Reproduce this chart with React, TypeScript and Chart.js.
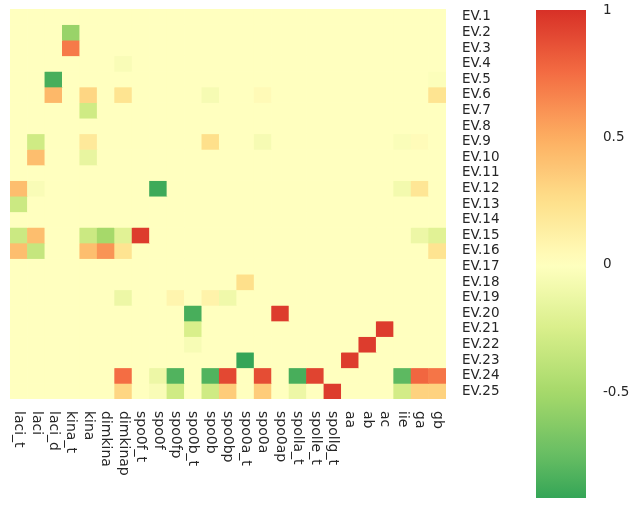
import React, { useEffect, useRef } from "react";
import { Chart, registerables } from "chart.js";

Chart.register(...registerables);

const xLabels = [
  "laci_t", "laci", "laci_d", "kina_t", "kina", "dimkina", "dimkinap",
  "spo0f_t", "spo0f", "spo0fp", "spo0b_t", "spo0b", "spo0bp", "spo0a_t",
  "spo0a", "spo0ap", "spolla_t", "spolle_t", "spollg_t", "aa", "ab", "ac",
  "iie", "ga", "gb",
];

const rowLabels = [
  "EV.1", "EV.2", "EV.3", "EV.4", "EV.5", "EV.6", "EV.7", "EV.8", "EV.9",
  "EV.10", "EV.11", "EV.12", "EV.13", "EV.14", "EV.15", "EV.16", "EV.17",
  "EV.18", "EV.19", "EV.20", "EV.21", "EV.22", "EV.23", "EV.24", "EV.25",
];

// one row per EV, one value per x label
const values: number[][] = [
  [0, 0, 0, 0, 0, 0, 0, 0, 0, 0, 0, 0, 0, 0, 0, 0, 0, 0, 0, 0, 0, 0, 0, 0, 0],
  [0, 0, 0, -0.55, 0, 0, 0, 0, 0, 0, 0, 0, 0, 0, 0, 0, 0, 0, 0, 0, 0, 0, 0, 0, 0],
  [0, 0, 0, 0.7, 0, 0, 0, 0, 0, 0, 0, 0, 0, 0, 0, 0, 0, 0, 0, 0, 0, 0, 0, 0, 0],
  [0, 0, 0, 0, 0, 0, -0.04, 0, 0, 0, 0, 0, 0, 0, 0, 0, 0, 0, 0, 0, 0, 0, 0, 0, 0],
  [0, 0, -0.85, 0, 0, 0, 0, 0, 0, 0, 0, 0, 0, 0, 0, 0, 0, 0, 0, 0, 0, 0, 0, 0, -0.02],
  [0, 0, 0.45, 0, 0.3, 0, 0.22, 0, 0, 0, 0, -0.06, 0, 0, 0.04, 0, 0, 0, 0, 0, 0, 0, 0, 0, 0.22],
  [0, 0, 0, 0, -0.3, 0, 0, 0, 0, 0, 0, 0, 0, 0, 0, 0, 0, 0, 0, 0, 0, 0, 0, 0, 0],
  [0, 0, 0, 0, 0, 0, 0, 0, 0, 0, 0, 0, 0, 0, 0, 0, 0, 0, 0, 0, 0, 0, 0, 0, 0],
  [0, -0.3, 0, 0, 0.18, 0, 0, 0, 0, 0, 0, 0.25, 0, 0, -0.06, 0, 0, 0, 0, 0, 0, 0, -0.03, 0.03, 0],
  [0, 0.42, 0, 0, -0.15, 0, 0, 0, 0, 0, 0, 0, 0, 0, 0, 0, 0, 0, 0, 0, 0, 0, 0, 0, 0],
  [0, 0, 0, 0, 0, 0, 0, 0, 0, 0, 0, 0, 0, 0, 0, 0, 0, 0, 0, 0, 0, 0, 0, 0, 0],
  [0.42, -0.04, 0, 0, 0, 0, 0, 0, -0.88, 0, 0, 0, 0, 0, 0, 0, 0, 0, 0, 0, 0, 0, -0.08, 0.2, 0],
  [-0.32, 0, 0, 0, 0, 0, 0, 0, 0, 0, 0, 0, 0, 0, 0, 0, 0, 0, 0, 0, 0, 0, 0, 0, 0],
  [0, 0, 0, 0, 0, 0, 0, 0, 0, 0, 0, 0, 0, 0, 0, 0, 0, 0, 0, 0, 0, 0, 0, 0, 0],
  [-0.32, 0.42, 0, 0, -0.32, -0.5, -0.2, 0.95, 0, 0, 0, 0, 0, 0, 0, 0, 0, 0, 0, 0, 0, 0, 0, -0.12, -0.2],
  [0.42, -0.35, 0, 0, 0.42, 0.6, 0.22, 0, 0, 0, 0, 0, 0, 0, 0, 0, 0, 0, 0, 0, 0, 0, 0, 0, 0.22],
  [0, 0, 0, 0, 0, 0, 0, 0, 0, 0, 0, 0, 0, 0, 0, 0, 0, 0, 0, 0, 0, 0, 0, 0, 0],
  [0, 0, 0, 0, 0, 0, 0, 0, 0, 0, 0, 0, 0, 0.25, 0, 0, 0, 0, 0, 0, 0, 0, 0, 0, 0],
  [0, 0, 0, 0, 0, 0, -0.12, 0, 0, 0.08, 0, 0.1, -0.1, 0, 0, 0, 0, 0, 0, 0, 0, 0, 0, 0, 0],
  [0, 0, 0, 0, 0, 0, 0, 0, 0, 0, -0.85, 0, 0, 0, 0, 0.95, 0, 0, 0, 0, 0, 0, 0, 0, 0],
  [0, 0, 0, 0, 0, 0, 0, 0, 0, 0, -0.25, 0, 0, 0, 0, 0, 0, 0, 0, 0, 0, 0.95, 0, 0, 0],
  [0, 0, 0, 0, 0, 0, 0, 0, 0, 0, -0.05, 0, 0, 0, 0, 0, 0, 0, 0, 0, 0.95, 0, 0, 0, 0],
  [0, 0, 0, 0, 0, 0, 0, 0, 0, 0, 0, 0, 0, -0.91, 0, 0, 0, 0, 0, 0.95, 0, 0, 0, 0, 0],
  [0, 0, 0, 0, 0, 0, 0.75, 0, -0.12, -0.82, 0, -0.82, 0.9, 0, 0.88, 0, -0.85, 0.92, 0, 0, 0, 0, -0.78, 0.78, 0.72],
  [0, 0, 0, 0, 0, 0, 0.3, 0, -0.04, -0.3, 0, -0.3, 0.35, 0, 0.35, 0, -0.12, 0, 0.95, 0, 0, 0, -0.28, 0.32, 0.32],
];

const cbarTicks = [1, 0.5, 0, -0.5];
const cbarMin = -0.914;
const cbarMax = 1;

// reversed RdYlGn (9 classes): green -> yellow -> red
const palette = [
  [26, 152, 80], [102, 189, 99], [166, 217, 106], [217, 239, 139],
  [255, 255, 191], [254, 224, 139], [253, 174, 97], [244, 109, 67], [215, 48, 39],
];

function colorFor(v: number): string {
  const t = Math.max(0, Math.min(1, (v + 1) / 2));
  const pos = t * (palette.length - 1);
  const i = Math.min(palette.length - 2, Math.floor(pos));
  const f = pos - i;
  const a = palette[i];
  const b = palette[i + 1];
  const c = a.map((av, k) => Math.round(av + (b[k] - av) * f));
  return `rgb(${c[0]},${c[1]},${c[2]})`;
}

const FONT = '"DejaVu Sans", sans-serif';
const TEXT = "#262626";

const xLabelPlugin = {
  id: "rotatedXLabels",
  afterDraw(chart: any) {
    const { ctx, chartArea, scales } = chart;
    const xs = scales.x;
    ctx.save();
    ctx.font = `14px ${FONT}`;
    ctx.fillStyle = TEXT;
    ctx.textAlign = "left";
    ctx.textBaseline = "middle";
    xLabels.forEach((lab, i) => {
      const x = xs.getPixelForValue(i);
      ctx.save();
      ctx.translate(x, chartArea.bottom + 12);
      ctx.rotate(Math.PI / 2);
      ctx.fillText(lab, 0, 0);
      ctx.restore();
    });
    ctx.restore();
  },
};

export default function App() {
  const heatRef = useRef<HTMLCanvasElement>(null);
  const cbarRef = useRef<HTMLCanvasElement>(null);

  useEffect(() => {
    const datasets = rowLabels.map((lab, r) => ({
      label: lab,
      data: xLabels.map(() => [r - 0.5, r + 0.5]),
      backgroundColor: values[r].map(colorFor),
      borderWidth: 0,
      borderSkipped: false,
      barPercentage: 1,
      categoryPercentage: 1,
      grouped: false,
    }));

    const heat = new Chart(heatRef.current!, {
      type: "bar",
      data: { labels: xLabels, datasets: datasets as any },
      plugins: [xLabelPlugin],
      options: {
        responsive: false,
        animation: false,
        layout: { padding: { left: 10, top: 9, right: 0, bottom: 0 } },
        plugins: { legend: { display: false }, tooltip: { enabled: false } },
        scales: {
          x: {
            type: "category",
            offset: true,
            grid: { display: false },
            border: { display: false },
            ticks: { display: false },
            afterFit: (axis: any) => {
              axis.height = 121;
              axis.paddingLeft = 0;
              axis.paddingRight = 0;
            },
          },
          y: {
            type: "linear",
            position: "right",
            reverse: true,
            min: -0.5,
            max: rowLabels.length - 0.5,
            grid: { display: false, drawTicks: false },
            border: { display: false },
            afterBuildTicks: (axis: any) => {
              axis.ticks = rowLabels.map((_, i) => ({ value: i }));
            },
            afterFit: (axis: any) => {
              axis.width = 84;
              axis.paddingTop = 0;
              axis.paddingBottom = 0;
            },
            ticks: {
              autoSkip: false,
              padding: 16,
              color: TEXT,
              font: { family: FONT, size: 13.5 },
              callback: (v: any) => rowLabels[Math.round(Number(v))],
            },
          },
        },
      },
    });

    const cbar = new Chart(cbarRef.current!, {
      type: "bar",
      data: {
        labels: [""],
        datasets: [
          {
            data: [[cbarMin, cbarMax]] as any,
            borderWidth: 0,
            borderSkipped: false,
            barPercentage: 1,
            categoryPercentage: 1,
            backgroundColor: (ctx: any) => {
              const chart = ctx.chart;
              const area = chart.chartArea;
              const ys = chart.scales.y;
              if (!area || !ys) return colorFor(0);
              const top = ys.getPixelForValue(cbarMax);
              const bottom = ys.getPixelForValue(cbarMin);
              const g = chart.ctx.createLinearGradient(0, bottom, 0, top);
              const n = 40;
              for (let k = 0; k <= n; k++) {
                const v = cbarMin + ((cbarMax - cbarMin) * k) / n;
                g.addColorStop(k / n, colorFor(v));
              }
              return g;
            },
          },
        ],
      },
      options: {
        responsive: false,
        animation: false,
        layout: { padding: { left: 6, top: 10, right: 0, bottom: 22 } },
        plugins: { legend: { display: false }, tooltip: { enabled: false } },
        scales: {
          x: { display: false },
          y: {
            type: "linear",
            position: "right",
            min: cbarMin,
            max: cbarMax,
            grid: { display: false, drawTicks: false },
            border: { display: false },
            afterBuildTicks: (axis: any) => {
              axis.ticks = cbarTicks.map((v) => ({ value: v }));
            },
            afterFit: (axis: any) => {
              axis.width = 52;
              axis.paddingTop = 0;
              axis.paddingBottom = 0;
            },
            ticks: {
              autoSkip: false,
              padding: 17,
              color: TEXT,
              font: { family: FONT, size: 13.5 },
              callback: (v: any) => String(v),
            },
          },
        },
      },
    });

    return () => {
      heat.destroy();
      cbar.destroy();
    };
  }, []);

  return (
    <div
      style={{
        position: "absolute",
        left: 0,
        top: 0,
        width: 638,
        height: 520,
        background: "#ffffff",
      }}
    >
      <canvas
        ref={heatRef}
        width={530}
        height={520}
        style={{ position: "absolute", left: 0, top: 0 }}
      />
      <canvas
        ref={cbarRef}
        width={108}
        height={520}
        style={{ position: "absolute", left: 530, top: 0 }}
      />
    </div>
  );
}
